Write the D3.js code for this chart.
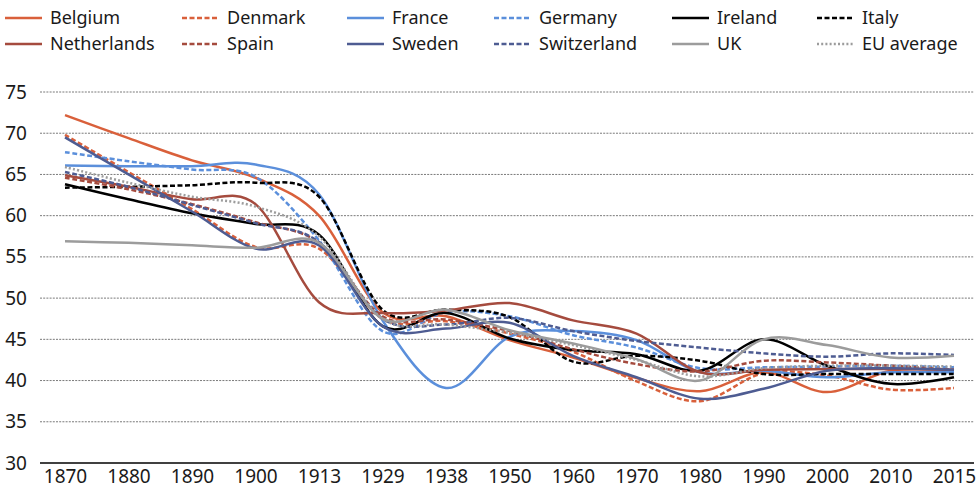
<!DOCTYPE html>
<html>
<head>
<meta charset="utf-8">
<script src="https://cdn.jsdelivr.net/npm/d3@7"></script>
<style>
  html, body { margin: 0; padding: 0; background: #fff; }
  svg { display: block; }
  text { font-family: "Noto Sans", "Open Sans", sans-serif; fill: #1a1a1a; }
</style>
</head>
<body>
<svg id="chart" width="980" height="489"></svg>
<script>
const years = ["1870","1880","1890","1900","1913","1929","1938","1950","1960","1970","1980","1990","2000","2010","2015"];
const yTicks = [30, 35, 40, 45, 50, 55, 60, 65, 70, 75];

const belgium     = [72.2,69.4,66.7,64.6,60.0,48.3,47.8,44.9,42.8,40.3,38.7,41.0,38.6,41.2,41.2];
const denmark     = [69.8,65.3,60.8,56.2,56.0,47.5,47.2,45.7,43.5,39.9,37.5,40.9,40.6,38.9,39.1];
const france      = [66.1,66.0,66.0,66.2,62.6,47.3,39.1,45.3,46.0,44.9,41.0,41.2,40.4,41.0,41.0];
const germany     = [67.7,66.6,65.6,64.7,57.0,46.0,48.3,47.8,45.5,44.0,41.5,41.6,41.7,41.8,41.6];
const ireland     = [63.8,62.0,60.3,59.0,57.7,46.6,48.2,45.1,43.7,43.2,41.2,45.0,41.8,39.6,40.4];
const italy       = [63.4,63.5,63.7,64.0,62.3,48.6,48.6,47.7,42.3,43.0,42.4,40.8,40.8,40.8,40.8];
const netherlands = [64.9,63.5,62.0,61.4,49.5,48.2,48.5,49.4,47.3,45.7,41.0,41.3,41.4,41.4,41.3];
const spain       = [64.6,63.2,61.4,59.2,56.7,47.8,47.4,46.0,43.8,42.0,41.1,42.4,42.2,41.8,41.3];
const sweden      = [69.5,65.0,60.5,56.0,56.4,46.6,46.3,47.0,43.0,40.4,37.8,39.0,41.2,41.5,41.3];
const switzerland = [65.3,63.5,61.3,59.1,56.8,47.5,46.8,47.6,46.0,44.8,44.0,43.3,42.9,43.3,43.1];
const uk          = [56.9,56.7,56.4,56.1,56.7,47.5,48.6,46.1,44.5,42.6,40.0,45.0,44.3,42.8,43.0];
const euAverage   = [65.9,64.0,62.3,61.1,57.5,47.5,46.8,45.8,44.3,42.5,40.5,41.5,41.8,41.8,41.7];

const seriesNames = ["Belgium","Denmark","France","Germany","Ireland","Italy",
                     "Netherlands","Spain","Sweden","Switzerland","UK","EU average"];
const seriesValues = [belgium, denmark, france, germany, ireland, italy,
                      netherlands, spain, sweden, switzerland, uk, euAverage];

const styles = {
  "Belgium":     {color:"#D9603B", dash:null},
  "Denmark":     {color:"#D9603B", dash:"5,2.5"},
  "France":      {color:"#5B8FDB", dash:null},
  "Germany":     {color:"#5B8FDB", dash:"5,2.5"},
  "Ireland":     {color:"#000000", dash:null},
  "Italy":       {color:"#000000", dash:"5,2.5"},
  "Netherlands": {color:"#A54B3E", dash:null},
  "Spain":       {color:"#A54B3E", dash:"5,2.5"},
  "Sweden":      {color:"#4E5C92", dash:null},
  "Switzerland": {color:"#4E5C92", dash:"5,2.5"},
  "UK":          {color:"#9C9C9C", dash:null},
  "EU average":  {color:"#9C9C9C", dash:"2,2.2"}
};

const svg = d3.select("#chart");
const x = d3.scalePoint().domain(years).range([65, 954]);
const y = d3.scaleLinear().domain([30, 75]).range([463, 92]);
const plotLeft = 40, plotRight = 974;

// gridlines
svg.append("g").selectAll("line")
  .data(yTicks.filter(d => d > 30))
  .join("line")
  .attr("x1", plotLeft).attr("x2", plotRight)
  .attr("y1", d => y(d)).attr("y2", d => y(d))
  .attr("stroke", "#7a7a7a").attr("stroke-width", 1)
  .attr("stroke-dasharray", "2,1.2");

// y axis labels
const yAxis = d3.axisLeft(y).tickValues(yTicks).tickSize(0).tickPadding(0);
const gy = svg.append("g").attr("transform", "translate(27,0)").call(yAxis);
gy.select(".domain").remove();
gy.selectAll("text").style("font-size", "19px").attr("fill", "#1a1a1a")
  .style("font-family", '"Noto Sans", sans-serif');

// x axis
const xAxis = d3.axisBottom(x).tickSize(0).tickPadding(6);
const gx = svg.append("g").attr("transform", "translate(0,463)").call(xAxis);
gx.select(".domain").remove();
gx.selectAll("text").style("font-size", "19px").attr("fill", "#1a1a1a")
  .style("font-family", '"Noto Sans", sans-serif');
svg.append("line").attr("x1", plotLeft).attr("x2", plotRight)
  .attr("y1", y(30)).attr("y2", y(30))
  .attr("stroke", "#000").attr("stroke-width", 1.5);

// lines
const line = d3.line()
  .x((d, i) => x(years[i]))
  .y(d => y(d))
  .curve(d3.curveCatmullRom.alpha(0));

svg.append("g").selectAll("path")
  .data(seriesNames.map((n, i) => ({name: n, values: seriesValues[i]})))
  .join("path")
  .attr("d", d => line(d.values))
  .attr("fill", "none")
  .attr("stroke", d => styles[d.name].color)
  .attr("stroke-width", 2.5)
  .attr("stroke-dasharray", d => styles[d.name].dash);

// legend
const colX = [5, 182, 347, 494, 672, 817];
const rowY = [18, 44];
const leg = svg.append("g");
seriesNames.forEach((n, i) => {
  const col = i % 6, row = Math.floor(i / 6);
  const gx0 = colX[col], gy0 = rowY[row];
  leg.append("line")
    .attr("x1", gx0).attr("x2", gx0 + 37)
    .attr("y1", gy0).attr("y2", gy0)
    .attr("stroke", styles[n].color).attr("stroke-width", 2.5)
    .attr("stroke-dasharray", styles[n].dash);
  leg.append("text")
    .attr("x", gx0 + 45).attr("y", gy0).attr("dy", "0.35em")
    .style("font-size", "18px")
    .text(n);
});
</script>
</body>
</html>
